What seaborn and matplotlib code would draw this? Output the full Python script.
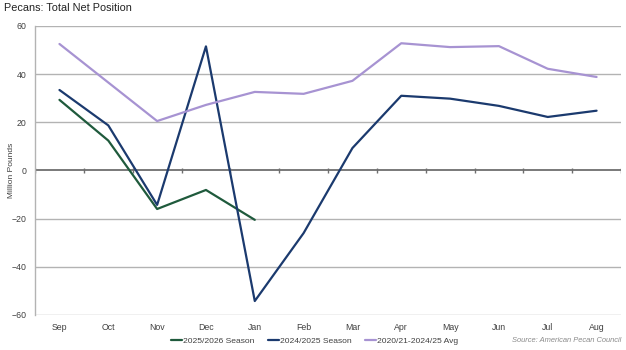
import numpy as np
import pandas as pd
import matplotlib
matplotlib.use("Agg")
import matplotlib.pyplot as plt
import seaborn as sns

months = ["Sep", "Oct", "Nov", "Dec", "Jan", "Feb", "Mar", "Apr", "May", "Jun", "Jul", "Aug"]
season_2025_26 = [29.3, 12.4, -16.0, -8.1, -20.5]
season_2024_25 = [33.4, 18.7, -14.3, 51.5, -54.2, -26.0, 9.3, 31.0, 29.8, 26.8, 22.2, 24.8]
avg_2020_2025 = [52.5, 36.5, 20.5, 27.2, 32.6, 31.8, 37.2, 52.8, 51.2, 51.6, 42.2, 38.8]
series_names = ["2025/2026 Season", "2024/2025 Season", "2020/21-2024/25 Avg"]
series_colors = ["#1f5a3c", "#1b3a6e", "#a793d2"]

frames = []
for name, vals in zip(series_names, [season_2025_26, season_2024_25, avg_2020_2025]):
    frames.append(pd.DataFrame({"month": np.arange(len(vals)), "value": vals, "series": name}))
df = pd.concat(frames, ignore_index=True)

sns.set_theme(style="white")
plt.rcParams["font.family"] = ["Liberation Sans", "DejaVu Sans"]

fig = plt.figure(figsize=(6.26, 3.5), dpi=100)
ax = fig.add_axes([0.056, 0.1, 0.936, 0.826])

# horizontal grid
for y in [-60, -40, -20, 20, 40, 60]:
    ax.axhline(y, color="#b3b3b3", lw=1.0, zorder=0)
ax.axhline(0, color="#6e6e6e", lw=1.3, zorder=1)
ax.vlines(np.arange(-0.5, 12, 1), -1.0, 1.0, color="#6e6e6e", lw=1.0, zorder=1)

sns.lineplot(data=df, x="month", y="value", hue="series", hue_order=series_names,
             palette=series_colors, lw=1.6, ax=ax, legend=False, zorder=3)

ax.set_xlim(-0.5, 11.5)
ax.set_ylim(-60, 60)
ax.set_yticks([-60, -40, -20, 0, 20, 40, 60])
ax.set_xticks(np.arange(12))
ax.set_xticklabels(months)
ax.tick_params(axis="both", labelsize=6.3, colors="#404040", length=0, pad=6)
ax.set_xlabel("")
ax.set_ylabel("Million Pounds", fontsize=6, color="#404040")
ax.yaxis.set_label_coords(-0.034, 0.5)
for s in ax.spines.values():
    s.set_visible(False)
ax.spines["left"].set_visible(True)
ax.spines["left"].set_color("#b3b3b3")
ax.spines["left"].set_linewidth(1.0)

fig.text(0.006, 0.977, "Pecans: Total Net Position", fontsize=7.8, color="#222222",
         ha="left", va="center", fontweight="medium")

handles = [plt.Line2D([0], [0], color=c, lw=1.6) for c in series_colors]
fig.legend(handles, series_names, loc="center", bbox_to_anchor=(0.503, 0.026), ncol=3,
           frameon=False, fontsize=6.1, handlelength=1.3, handletextpad=0.1, columnspacing=1.6,
           labelcolor="#404040")

fig.text(0.993, 0.026, "Source: American Pecan Council", fontsize=5.4, style="italic",
         color="#8a8a8a", ha="right", va="center")

fig.savefig("out.png", dpi=100)
